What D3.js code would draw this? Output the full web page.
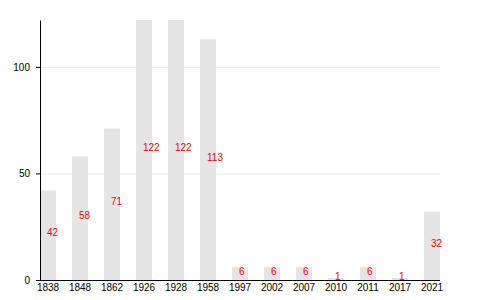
<!DOCTYPE html>
<html>
<head>
<meta charset="utf-8">
<script src="https://cdn.jsdelivr.net/npm/d3@7"></script>
<style>
  body { margin: 0; background: #fff; }
  text { font-family: "Liberation Sans", Arial, sans-serif; }
</style>
</head>
<body>
<div id="chart"></div>
<script>
// years and counts
var years = ["1838", "1848", "1862", "1926", "1928", "1958", "1997", "2002", "2007", "2010", "2011", "2017", "2021"];
var counts = [42, 58, 71, 122, 122, 113, 6, 6, 6, 1, 6, 1, 32];
var yTicks = [0, 50, 100];

var width = 480, height = 300;
var margin = {top: 20, right: 40, bottom: 20, left: 40};

var data = years.map((y, i) => ({year: y, value: counts[i]}));

var svg = d3.select("#chart")
  .append("svg")
  .attr("width", width)
  .attr("height", height);

var x = d3.scaleBand()
  .domain(years)
  .range([margin.left, width - margin.right])
  .paddingInner(0.5)
  .paddingOuter(0);

var y = d3.scaleLinear()
  .domain([0, 122])
  .range([height - margin.bottom, margin.top]);

// grid lines
svg.append("g")
  .selectAll("line")
  .data(yTicks.filter(d => d > 0))
  .enter()
  .append("line")
  .attr("x1", margin.left)
  .attr("x2", width - margin.right)
  .attr("y1", d => y(d) + 0.5)
  .attr("y2", d => y(d) + 0.5)
  .attr("stroke", "#e8e8e8")
  .attr("stroke-width", 1);

// bars
svg.append("g")
  .selectAll("rect")
  .data(data)
  .enter()
  .append("rect")
  .attr("x", d => x(d.year))
  .attr("y", d => y(d.value))
  .attr("width", x.bandwidth())
  .attr("height", d => y(0) - y(d.value))
  .attr("fill", "#e5e5e5");

// value labels, halfway up each bar
svg.append("g")
  .selectAll("text")
  .data(data)
  .enter()
  .append("text")
  .attr("x", d => x(d.year) + x.bandwidth() / 2 - 1)
  .attr("y", d => (y(d.value) + y(0)) / 2 + 1)
  .attr("fill", "red")
  .attr("font-size", "10px")
  .text(d => d.value);

// x axis
var xAxis = svg.append("g")
  .attr("transform", "translate(0," + (height - margin.bottom) + ")")
  .call(d3.axisBottom(x).tickSize(0).tickPadding(4));
xAxis.select(".domain").attr("stroke", "#000").attr("d", "M" + margin.left + ",0.5H" + (width - margin.right));
xAxis.selectAll("text")
  .attr("font-size", "10px")
  .attr("font-family", "Liberation Sans, Arial, sans-serif")
  .attr("fill", "#000");

// y axis
var yAxis = svg.append("g")
  .attr("transform", "translate(" + margin.left + ",0)")
  .call(d3.axisLeft(y).tickValues(yTicks).tickSize(4).tickSizeOuter(0).tickPadding(6));
yAxis.select(".domain").attr("stroke", "#000");
yAxis.selectAll("text")
  .attr("font-size", "10px")
  .attr("font-family", "Liberation Sans, Arial, sans-serif")
  .attr("fill", "#000");
</script>
</body>
</html>
